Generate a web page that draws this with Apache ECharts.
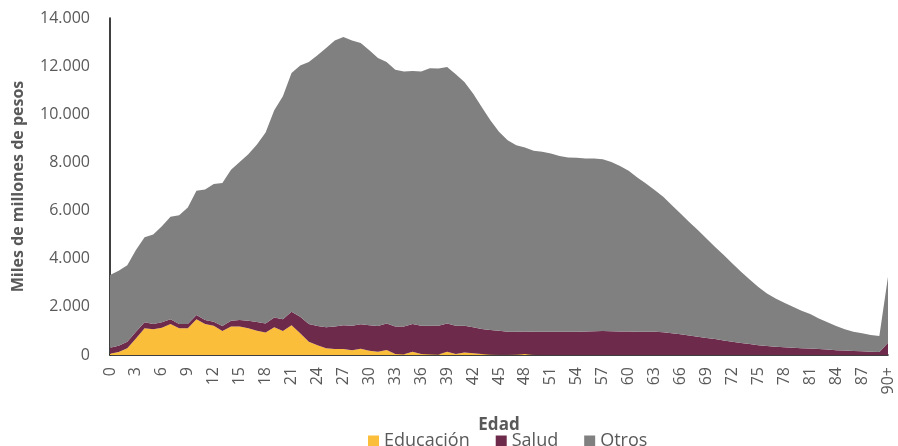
<!DOCTYPE html>
<html>
<head>
<meta charset="utf-8">
<script src="https://cdn.jsdelivr.net/npm/echarts@6/dist/echarts.min.js"></script>
<style>
  html, body { margin: 0; padding: 0; background: #fff; }
  #chart { width: 898px; height: 446px; }
</style>
</head>
<body>
<div id="chart"></div>
<script>
// edades 0..89 y 90+
var ages = [];
for (var i = 0; i < 90; i++) ages.push(String(i));
ages.push('90+');

var educacion = [50, 120, 280, 690, 1110, 1070, 1130, 1290, 1110, 1110,
  1480, 1290, 1220, 1000, 1180, 1180, 1110, 1010, 930, 1150,
  1000, 1240, 900, 550, 410, 280, 250, 250, 200, 260,
  180, 140, 210, 40, 30, 140, 40, 30, 20, 140,
  40, 100, 70, 40, 20, 10, 10, 20, 40, 10,
  0, 0, 0, 0, 0, 0, 0, 0, 0, 0,
  0, 0, 0, 0, 0, 0, 0, 0, 0, 0,
  0, 0, 0, 0, 0, 0, 0, 0, 0, 0,
  0, 0, 0, 0, 0, 0, 0, 0, 0, 0,
  0];

var salud = [250, 260, 270, 280, 250, 220, 230, 190, 180, 180,
  180, 160, 160, 200, 240, 270, 310, 360, 380, 410,
  480, 560, 690, 740, 790, 870, 930, 990, 1020, 1020,
  1060, 1060, 1100, 1140, 1150, 1150, 1180, 1190, 1200, 1170,
  1180, 1120, 1080, 1040, 1020, 1000, 960, 950, 940, 960,
  970, 970, 970, 970, 970, 980, 990, 1000, 990, 980,
  980, 970, 970, 970, 950, 900, 860, 810, 760, 710,
  660, 600, 550, 500, 460, 410, 370, 340, 320, 300,
  280, 265, 250, 225, 200, 185, 170, 155, 140, 120,
  510];

var otros = [3020, 3120, 3180, 3390, 3530, 3720, 3990, 4260, 4520, 4840,
  5160, 5430, 5720, 5950, 6280, 6570, 6920, 7380, 7930, 8610,
  9270, 9910, 10440, 10880, 11250, 11600, 11890, 11970, 11850, 11680,
  11420, 11140, 10860, 10670, 10600, 10510, 10560, 10690, 10680, 10650,
  10440, 10120, 9710, 9220, 8710, 8260, 7950, 7740, 7640, 7510,
  7470, 7400, 7300, 7230, 7220, 7180, 7170, 7130, 7030, 6870,
  6670, 6400, 6150, 5880, 5620, 5320, 5020, 4720, 4430, 4130,
  3830, 3550, 3250, 2960, 2680, 2420, 2190, 2010, 1850, 1700,
  1560, 1435, 1270, 1135, 1000, 885, 800, 745, 690, 670,
  2740];

var colores = ['#FBBE3A', '#6E2A4B', '#808080'];

function miles(v) {
  return String(v).replace(/\B(?=(\d{3})+(?!\d))/g, '.');
}

function area(name, data) {
  return {
    name: name,
    type: 'line',
    stack: 'total',
    data: data,
    symbol: 'none',
    lineStyle: { width: 0 },
    areaStyle: { opacity: 1 },
    emphasis: { disabled: true }
  };
}

var chart = echarts.init(document.getElementById('chart'));
chart.setOption({
  animation: false,
  color: colores,
  textStyle: { fontFamily: 'Open Sans' },
  grid: { left: 110, right: 10, top: 18, bottom: 91 },
  legend: {
    top: 427,
    left: 363,
    icon: 'rect',
    itemWidth: 11,
    itemHeight: 11,
    itemGap: 26,
    textStyle: { fontSize: 18, color: '#595959', fontFamily: 'Open Sans' },
    data: ['Educación', 'Salud', 'Otros']
  },
  xAxis: {
    type: 'category',
    data: ages,
    boundaryGap: false,
    name: 'Edad',
    nameLocation: 'middle',
    nameGap: 62,
    nameTextStyle: { fontSize: 17, fontWeight: 'bold', color: '#595959' },
    axisLine: { lineStyle: { color: '#000', width: 1.5 } },
    axisTick: { show: false },
    axisLabel: { interval: 2, rotate: 90, fontSize: 16, color: '#595959', margin: 12 },
    splitLine: { show: false }
  },
  yAxis: {
    type: 'value',
    min: 0,
    max: 14000,
    interval: 2000,
    name: 'Miles de millones de pesos',
    nameLocation: 'middle',
    nameGap: 84,
    nameTextStyle: { fontSize: 16, fontWeight: 'bold', color: '#595959' },
    axisLine: { show: true, lineStyle: { color: '#000', width: 1.5 } },
    axisTick: { show: false },
    axisLabel: { fontSize: 16, color: '#595959', margin: 20, formatter: miles },
    splitLine: { show: false }
  },
  series: [
    area('Educación', educacion),
    area('Salud', salud),
    area('Otros', otros)
  ]
});
</script>
</body>
</html>
